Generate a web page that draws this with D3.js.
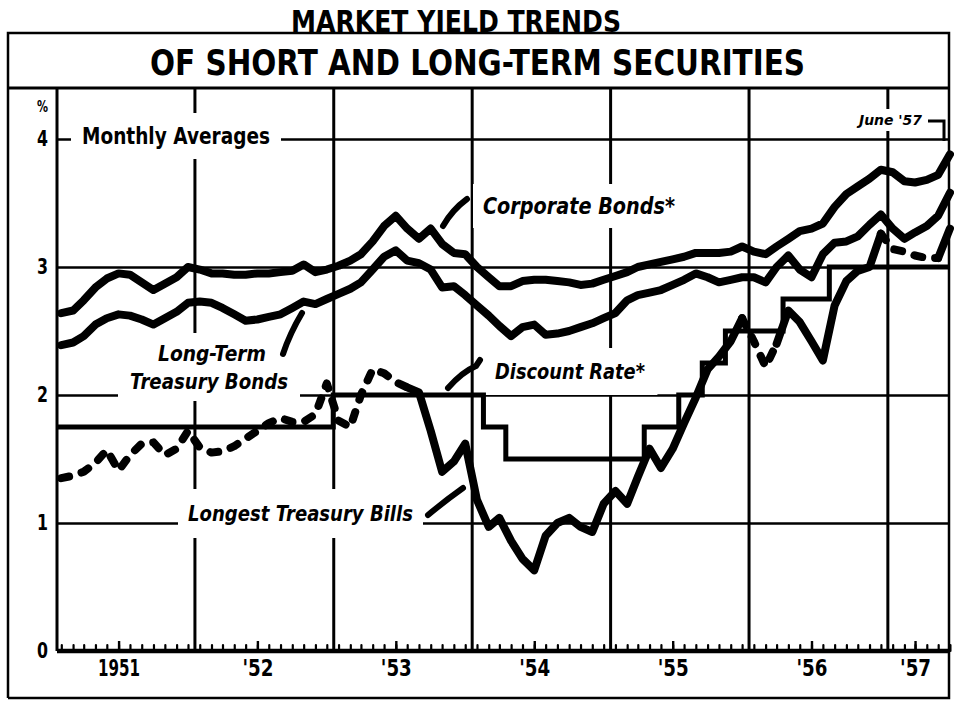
<!DOCTYPE html>
<html>
<head>
<meta charset="utf-8">
<script src="https://cdn.jsdelivr.net/npm/d3@7"></script>
<style>
  body { margin: 0; background: #fff; }
  svg { display: block; }
  text { font-family: "DejaVu Sans", "Liberation Sans", Arial, sans-serif; font-weight: bold; fill: #000; }
</style>
</head>
<body>
<svg></svg>
<script>
// monthly averages, Jan 1951 - Jun 1957
const startMonth = "1951-01";
const yearLabels = ["1951", "'52", "'53", "'54", "'55", "'56", "'57"];
const yTicks = [0, 1, 2, 3, 4];

const corporate = [
  2.64, 2.66, 2.74, 2.84, 2.91, 2.95, 2.94, 2.88, 2.82, 2.87, 2.92, 3.00,
  2.98, 2.95, 2.95, 2.94, 2.94, 2.95, 2.95, 2.96, 2.97, 3.02, 2.96, 2.98,
  3.01, 3.05, 3.10, 3.20, 3.32, 3.40, 3.30, 3.22, 3.30, 3.18, 3.11, 3.10,
  3.00, 2.92, 2.85, 2.85, 2.89, 2.90, 2.90, 2.89, 2.88, 2.86, 2.87, 2.90,
  2.93, 2.96, 3.00, 3.02, 3.04, 3.06, 3.08, 3.11, 3.11, 3.11, 3.12, 3.16,
  3.12, 3.10, 3.16, 3.22, 3.28, 3.30, 3.34, 3.47, 3.57, 3.63, 3.69, 3.76,
  3.74, 3.67, 3.66, 3.68, 3.72, 3.88
];

const treasuryBonds = [
  2.39, 2.41, 2.46, 2.55, 2.60, 2.63, 2.62, 2.59, 2.55, 2.60, 2.65, 2.72,
  2.73, 2.72, 2.68, 2.63, 2.58, 2.59, 2.61, 2.63, 2.68, 2.73, 2.71, 2.75,
  2.79, 2.83, 2.88, 2.98, 3.08, 3.13, 3.05, 3.03, 2.98, 2.84, 2.85, 2.78,
  2.70, 2.62, 2.54, 2.46, 2.53, 2.55, 2.47, 2.48, 2.50, 2.53, 2.56, 2.60,
  2.64, 2.74, 2.78, 2.80, 2.82, 2.86, 2.90, 2.95, 2.92, 2.88, 2.90, 2.92,
  2.92, 2.88, 3.00, 3.09, 2.98, 2.92, 3.10, 3.19, 3.20, 3.24, 3.33, 3.41,
  3.30, 3.22, 3.27, 3.32, 3.40, 3.58
];

const treasuryBills = [
  1.35, 1.37, 1.40, 1.47, 1.57, 1.41, 1.53, 1.62, 1.63, 1.53, 1.58, 1.72,
  1.59, 1.55, 1.56, 1.60, 1.66, 1.72, 1.78, 1.82, 1.79, 1.79, 1.85, 2.09,
  1.80, 1.75, 2.00, 2.20, 2.17, 2.10, 2.06, 2.02, 1.72, 1.40, 1.48, 1.62,
  1.18, 0.97, 1.04, 0.86, 0.72, 0.63, 0.90, 1.00, 1.04, 0.97, 0.93, 1.15,
  1.25, 1.15, 1.36, 1.58, 1.43, 1.58, 1.78, 1.98, 2.20, 2.30, 2.42, 2.60,
  2.42, 2.22, 2.40, 2.66, 2.57, 2.42, 2.27, 2.70, 2.89, 2.97, 3.00, 3.26,
  3.14, 3.12, 3.09, 3.07, 3.07, 3.30
];

// discount rate: month of change and new rate
const discountDates = ["1951-01", "1953-01", "1954-02", "1954-04", "1955-04", "1955-07", "1955-09", "1955-11", "1956-04", "1956-08"];
const discountRates = [1.75, 2.00, 1.75, 1.50, 1.75, 2.00, 2.25, 2.50, 2.75, 3.00];

// stretches of the bill line that are printed dashed
const billsDashed = [["1951-01", "1953-07"], ["1955-12", "1956-03"], ["1956-12", "1957-05"]];

const w = 954;
const h = 701;
const frame = { left: 8, right: 949, top: 33, sep: 88, bottom: 698 };
const plot = { left: 57, right: 949, top: 88, bottom: 651 };

const parseMonth = d3.timeParse("%Y-%m");
const first = parseMonth(startMonth);
const months = corporate.map((_, i) => d3.timeMonth.offset(first, i));
const mid = d => new Date(d.getFullYear(), d.getMonth(), 15);

const x = d3.scaleTime()
  .domain([first, d3.timeMonth.offset(first, 78)])
  .range([56, 956]);
const y = d3.scaleLinear().domain([0, 4]).range([651, 139]);

const svg = d3.select("svg").attr("width", w).attr("height", h);

// frame and title
svg.append("rect").attr("width", w).attr("height", h).attr("fill", "#fff");
const frameG = svg.append("g").attr("stroke", "#000").attr("fill", "none");
frameG.append("path")
  .attr("d", `M${frame.left},${frame.bottom}V${frame.top}H${frame.right}V${frame.bottom}H${frame.left}`)
  .attr("stroke-width", 2.5);
frameG.append("line")
  .attr("x1", frame.left).attr("x2", frame.right)
  .attr("y1", frame.sep).attr("y2", frame.sep)
  .attr("stroke-width", 3);

svg.append("text")
  .attr("x", 291).attr("y", 32)
  .attr("textLength", 330).attr("lengthAdjust", "spacingAndGlyphs")
  .style("font-size", "31px")
  .text("MARKET YIELD TRENDS");

svg.append("text")
  .attr("x", 150).attr("y", 75)
  .attr("textLength", 655).attr("lengthAdjust", "spacingAndGlyphs")
  .style("font-size", "35px")
  .text("OF SHORT AND LONG-TERM SECURITIES");

const gridG = svg.append("g");
const bgG = svg.append("g");
const dataG = svg.append("g");
const textG = svg.append("g");

// horizontal grid lines
gridG.append("g")
  .attr("transform", `translate(${plot.left},0)`)
  .call(d3.axisLeft(y).tickValues([1, 2, 3, 4]).tickSize(-(plot.right - plot.left)).tickFormat(""))
  .call(g => g.select(".domain").remove())
  .call(g => g.selectAll("line").attr("stroke", "#000").attr("stroke-width", 2.6));

// vertical year lines
gridG.append("g")
  .attr("transform", `translate(0,${plot.bottom})`)
  .call(d3.axisBottom(x).tickValues(d3.timeYear.range(parseMonth("1952-01"), parseMonth("1957-02")))
    .tickSize(-(plot.bottom - plot.top)).tickFormat(""))
  .call(g => g.select(".domain").remove())
  .call(g => g.selectAll("line").attr("stroke", "#000").attr("stroke-width", 3));

// left axis line
gridG.append("line")
  .attr("x1", plot.left).attr("x2", plot.left)
  .attr("y1", plot.top).attr("y2", plot.bottom)
  .attr("stroke", "#000").attr("stroke-width", 3);

// y labels
const yAxis = svg.append("g")
  .attr("transform", `translate(${plot.left},0)`)
  .call(d3.axisLeft(y).tickValues(yTicks).tickSize(0).tickPadding(9).tickFormat(d3.format("d")));
yAxis.select(".domain").remove();
yAxis.selectAll("text")
  .attr("fill", "#000")
  .attr("textLength", 11).attr("lengthAdjust", "spacingAndGlyphs")
  .style("font-size", "21px");
svg.append("text")
  .attr("x", 48).attr("y", 112)
  .attr("text-anchor", "end")
  .attr("textLength", 11).attr("lengthAdjust", "spacingAndGlyphs")
  .style("font-size", "16px")
  .text("%");

// bottom axis: month ticks, longer tick under each year label
const yearGroups = d3.groups(months, d => d.getFullYear());
const labelDates = yearGroups.map(([, ms]) => mid(ms[Math.floor((ms.length - 1) / 2)]));

const xAxisG = svg.append("g").attr("transform", `translate(0,${plot.bottom})`);
xAxisG.append("g")
  .call(d3.axisTop(x).tickValues(months.map(mid)).tickSize(6).tickFormat(""))
  .call(g => g.select(".domain").remove())
  .call(g => g.selectAll("line").attr("stroke", "#000").attr("stroke-width", 2.2).attr("stroke-linecap", "round"));
xAxisG.append("g")
  .call(d3.axisTop(x).tickValues(labelDates).tickSize(10).tickFormat(""))
  .call(g => g.select(".domain").remove())
  .call(g => g.selectAll("line").attr("stroke", "#000").attr("stroke-width", 2.4));
xAxisG.append("line")
  .attr("x1", plot.left).attr("x2", plot.right)
  .attr("stroke", "#000").attr("stroke-width", 4.5);
xAxisG.append("g")
  .call(d3.axisBottom(x).tickValues(labelDates).tickSize(0).tickPadding(9)
    .tickFormat((d, i) => yearLabels[i]))
  .call(g => g.select(".domain").remove())
  .call(g => g.selectAll("text")
    .attr("fill", "#000")
    .attr("textLength", (d, i) => i === 0 ? 42 : 31)
    .attr("lengthAdjust", "spacingAndGlyphs")
    .style("font-size", "23px"));

// labels with white backing that breaks the grid
function label(t, lx, ly, len, size, opts = {}) {
  const txt = textG.append("text")
    .attr("x", lx).attr("y", ly)
    .style("font-size", size + "px")
    .style("font-style", opts.italic ? "italic" : "normal")
    .text(t);
  if (len) txt.attr("textLength", len).attr("lengthAdjust", "spacingAndGlyphs");
  const b = txt.node().getBBox();
  const p = opts.pad || [10, 8];
  bgG.append("rect")
    .attr("x", b.x - p[0]).attr("y", b.y - p[1])
    .attr("width", b.width + 2 * p[0]).attr("height", b.height + 2 * p[1])
    .attr("fill", "#fff");
}

label("Monthly Averages", 82, 144, 188, 23, { pad: [11, 10] });
label("Corporate Bonds*", 483, 214, 192, 23, { italic: true, pad: [10, 9] });
label("Long-Term", 158, 361, 108, 22, { italic: true, pad: [10, 8] });
label("Treasury Bonds", 130, 389, 158, 22, { italic: true, pad: [12, 7] });
label("Discount Rate*", 495, 379, 150, 22, { italic: true, pad: [12, 11] });
label("Longest Treasury Bills", 188, 521, 225, 22, { italic: true, pad: [10, 12] });
label("June '57", 859, 125, 63, 14, { italic: true, pad: [3, 3] });

// data lines
const line = d3.line()
  .x(d => x(d.date))
  .y(d => y(d.value));
const pts = arr => arr.map((v, i) => ({ date: mid(months[i]), value: v }));

function drawLine(arr, width) {
  dataG.append("path")
    .datum(pts(arr))
    .attr("d", line)
    .attr("fill", "none")
    .attr("stroke", "#000")
    .attr("stroke-width", width)
    .attr("stroke-linejoin", "round")
    .attr("stroke-linecap", "round");
}
drawLine(corporate, 8);
drawLine(treasuryBonds, 8);

// discount rate as steps
const discountPts = discountDates.map((d, i) => ({ date: parseMonth(d), value: discountRates[i] }));
discountPts.push({ date: mid(months[months.length - 1]), value: discountRates[discountRates.length - 1] });
dataG.append("path")
  .datum(discountPts)
  .attr("d", d3.line().x(d => x(d.date)).y(d => y(d.value)).curve(d3.curveStepAfter))
  .attr("fill", "none")
  .attr("stroke", "#000")
  .attr("stroke-width", 5);

// treasury bills, solid and dashed stretches
const billPts = pts(treasuryBills);
const monthIndex = s => d3.timeMonth.count(first, parseMonth(s));
const cuts = [];
let pos = 0;
billsDashed.forEach(([a, b]) => {
  const ia = monthIndex(a), ib = monthIndex(b);
  if (ia > pos) cuts.push([pos, ia, false]);
  cuts.push([ia, ib, true]);
  pos = ib;
});
if (pos < billPts.length - 1) cuts.push([pos, billPts.length - 1, false]);
cuts.forEach(([a, b, dashed]) => {
  dataG.append("path")
    .datum(billPts.slice(a, b + 1))
    .attr("d", line)
    .attr("fill", "none")
    .attr("stroke", "#000")
    .attr("stroke-width", 8)
    .attr("stroke-linejoin", "round")
    .attr("stroke-linecap", "round")
    .attr("stroke-dasharray", dashed ? "8 13" : null);
});

// pointers from labels to lines
const pointers = [
  "M443,226 Q452,210 467,199",
  "M283,354 Q290,333 302,313",
  "M448,388 Q462,372 476,366 L480,360",
  "M428,515 Q446,500 463,488"
];
textG.selectAll(".ptr")
  .data(pointers)
  .enter()
  .append("path")
  .attr("d", d => d)
  .attr("fill", "none")
  .attr("stroke", "#000")
  .attr("stroke-width", 6)
  .attr("stroke-linecap", "round");

// bracket next to "June '57"
textG.append("path")
  .attr("d", "M928,121H944V141")
  .attr("fill", "none")
  .attr("stroke", "#000")
  .attr("stroke-width", 3);
</script>
</body>
</html>
